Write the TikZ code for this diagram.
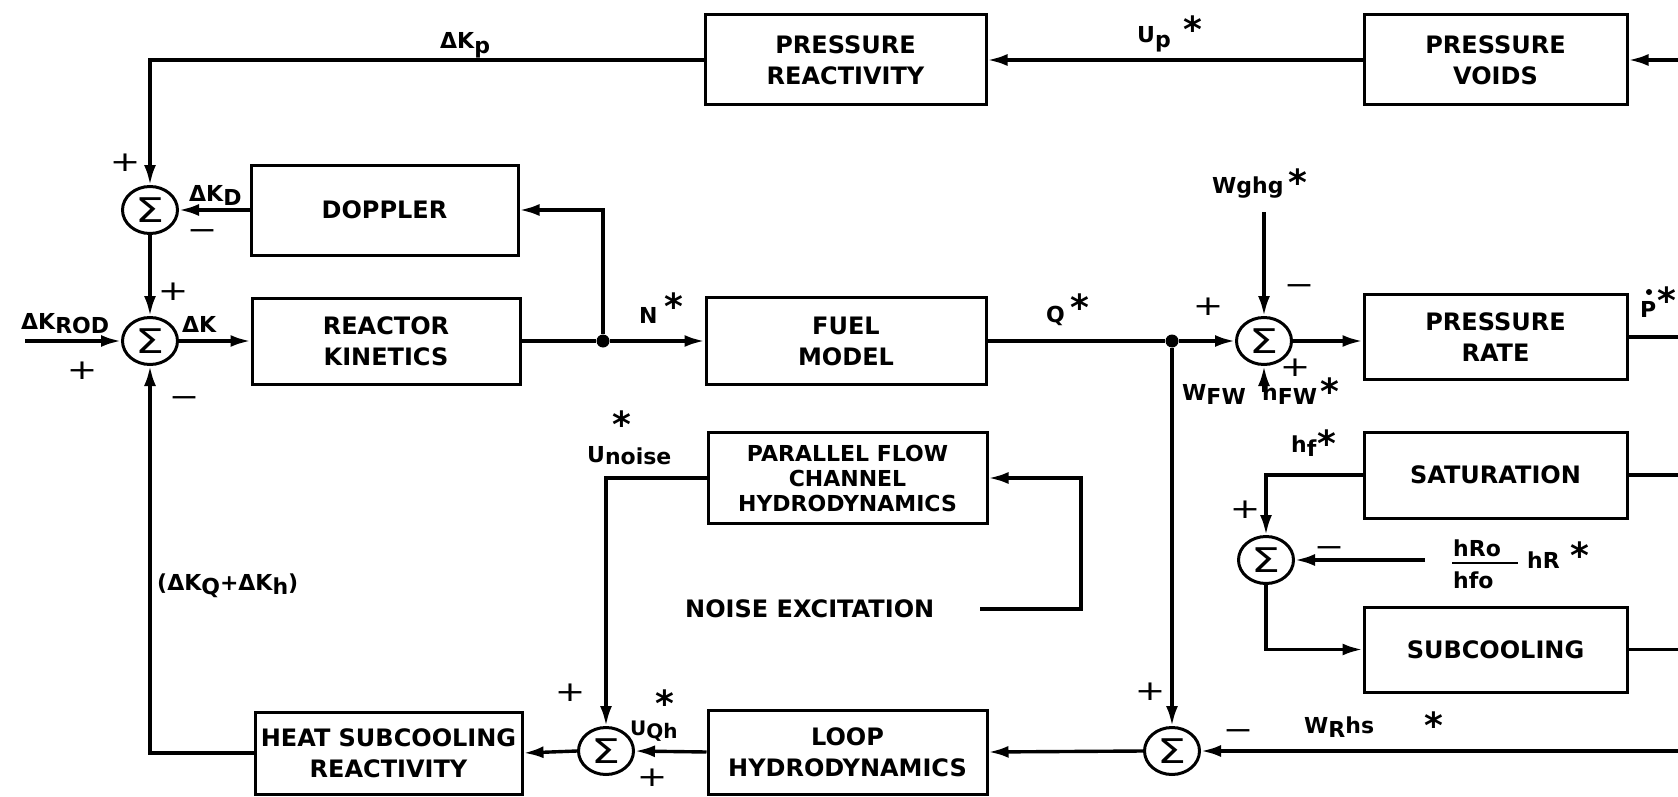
\documentclass[tikz,border=0pt]{standalone}
\usepackage{fontspec}
\setmainfont{DejaVu Sans}
\usetikzlibrary{arrows.meta,shapes.geometric}
\newcommand{\lo}[1]{\raisebox{-0.22em}{#1}}
\newcommand{\sig}{\scalebox{1.35}[1]{\fontsize{34}{34}\selectfont Σ}}
\begin{document}
\begin{tikzpicture}[x=1pt,y=-1pt,
  blk/.style={draw, line width=3pt, align=center, inner sep=0pt,
    font=\fontsize{24}{31}\bfseries\selectfont},
  sumn/.style={ellipse, draw, line width=3pt, minimum width=55pt,
    minimum height=47pt, inner sep=0pt},
  conn/.style={line width=3.4pt},
  arr/.style={conn, -{Latex[length=20pt,width=12pt]}},
  lbl/.style={font=\fontsize{22}{22}\bfseries\selectfont, inner sep=0pt, anchor=base west},
  strn/.style={font=\fontsize{36}{36}\bfseries\selectfont, inner sep=0pt, anchor=base},
  plus/.style={font=\fontsize{28}{28}\selectfont, inner sep=0pt, anchor=center},
  minus/.style={font=\fontsize{28}{28}\selectfont, inner sep=0pt, anchor=base},
  jdot/.style={circle, fill, minimum size=13pt, inner sep=0pt}]
\useasboundingbox (0,0) rectangle (1678,797);
\fill[white] (0,0) rectangle (1678,797);

% blocks
\node[blk, minimum width=281pt, minimum height=90pt] (PR) at (845.5,60) {PRESSURE\\REACTIVITY};
\node[blk, minimum width=263pt, minimum height=90pt] (PV) at (1495.5,60) {PRESSURE\\VOIDS};
\node[blk, minimum width=267pt, minimum height=90pt] (DOP) at (384.5,210) {DOPPLER};
\node[blk, minimum width=268pt, minimum height=86pt] (RK) at (386,341) {REACTOR\\KINETICS};
\node[blk, minimum width=280pt, minimum height=87pt] (FM) at (846,341) {FUEL\\MODEL};
\node[blk, minimum width=263pt, minimum height=85pt] (PRT) at (1495.5,337) {PRESSURE\\RATE};
\node[blk, minimum width=279pt, minimum height=91pt, font=\fontsize{22}{25}\bfseries\selectfont] (PF) at (847.5,478) {PARALLEL FLOW\\CHANNEL\\HYDRODYNAMICS};
\node[blk, minimum width=263pt, minimum height=86pt] (SAT) at (1495.5,475) {SATURATION};
\node[blk, minimum width=263pt, minimum height=85pt] (SUB) at (1495.5,649.5) {SUBCOOLING};
\node[blk, minimum width=279pt, minimum height=84pt] (LOOP) at (847.5,752) {LOOP\\HYDRODYNAMICS};
\node[blk, minimum width=267pt, minimum height=82pt] (HEAT) at (388.5,753) {HEAT SUBCOOLING\\REACTIVITY};

% summing junctions
\node[sumn] (S1) at (150,210) {\sig};
\node[sumn] (S2) at (150,341) {\sig};
\node[sumn] (SP) at (1264,341) {\sig};
\node[sumn] (SH) at (1266,560) {\sig};
\node[sumn] (SR) at (1172,751) {\sig};
\node[sumn] (SQ) at (606,751) {\sig};
\node[jdot] (J1) at (603,341) {};
\node[jdot] (J2) at (1172,341) {};

% free ends
\coordinate (eV) at (1678,60);
\coordinate (eR) at (1678,337);
\coordinate (eSat) at (1678,475);
\coordinate (eSub) at (1678,649.5);
\coordinate (eW) at (1678,751);
\coordinate (rodin) at (25,341);
\coordinate (wghg) at (1264,212);
\coordinate (hfw) at (1264,392);
\coordinate (hro) at (1425,560);
\coordinate (noise) at (980,609);
\coordinate (nc) at (1081,609);

% connectors
\draw[arr] (eV) -- (PV.east);
\draw[arr] (PV.west) -- (PR.east);
\draw[arr] (PR.west) -| (S1.north);
\draw[arr] (DOP.west) -- (S1.east);
\draw[arr] (S1.south) -- (S2.north);
\draw[arr] (rodin) -- (S2.west);
\draw[arr] (S2.east) -- (RK.west);
\draw[conn] (RK.east) -- (J1);
\draw[arr] (J1) |- (DOP.east);
\draw[arr] (J1) -- (FM.west);
\draw[conn] (FM.east) -- (J2);
\draw[arr] (J2) -- (SP.west);
\draw[arr] (wghg) -- (SP.north);
\draw[arr] (hfw) -- (SP.south);
\draw[arr] (SP.east) -- (SP.east -| PRT.west);
\draw[conn] (PRT.east) -- (eR);
\draw[arr] (J2) -- (SR.north);
\draw[arr] (eW) -- (SR.east);
\draw[arr] (SR.west) -- (LOOP.east);
\draw[arr] (LOOP.west) -- (SQ.east);
\draw[arr] (SQ.west) -- (HEAT.east);
\draw[arr] (HEAT.west) -| (S2.south);
\draw[arr] (PF.west) -| (SQ.north);
\draw[arr] (noise) -- (nc) |- (PF.east);
\draw[arr] (SAT.west) -| (SH.north);
\draw[arr] (hro) -- (SH.east);
\draw[arr] (SH.south) |- (SUB.west);
\draw[conn] (SAT.east) -- (eSat);
\draw[conn] (SUB.east) -- (eSub);

% labels
\node[lbl] (lKp) at (440,49) {ΔK\lo{p}};
\node[lbl] (lUp) at (1137,43) {U\lo{p}};
\node[strn] (sUp) at (1193,43) {*};
\node[lbl] (lN) at (639,323) {N};
\node[strn] (sN) at (674,319) {*};
\node[lbl] (lQ) at (1046,322) {Q};
\node[strn] (sQ) at (1080,320) {*};
\node[lbl] (lW) at (1212,193) {Wghg};
\node[strn] (sW) at (1298,195) {*};
\node[lbl] (lP) at (1640,317) {P};
\fill (1649,292) circle (3pt);
\node[strn] (sP) at (1667,313) {*};
\node[lbl] (lKD) at (189,201) {ΔK\lo{D}};
\node[lbl] (lK) at (182,332) {ΔK};
\node[lbl] (lKR) at (21,329) {ΔK\lo{ROD}};
\node[lbl] (lKQ) at (157,590) {(ΔK\lo{Q}+ΔK\lo{h})};
\node[lbl] (lUn) at (587,462) {U\raisebox{-0.12em}{noise}};
\node[strn] (sUn) at (622,437) {*};
\node[lbl, font=\fontsize{20}{20}\bfseries\selectfont] (lUq) at (630,735) {U\raisebox{-0.15em}{Qh}};
\node[strn] (sUq) at (665,716) {*};
\node[lbl] (lhf) at (1291,452) {h\lo{f}};
\node[strn] (shf) at (1327,456) {*};
\node[lbl] (lWfw) at (1182,400) {W\lo{FW}};
\node[lbl] (lhfw) at (1262,400) {h\lo{FW}};
\node[strn] (shfw) at (1330,404) {*};
\node[lbl] (lWR) at (1304,733) {W\lo{R}hs};
\node[strn] (sWR) at (1434,738) {*};
\node[lbl] (lhRo) at (1453,556) {hRo};
\node[lbl] (lhfo) at (1453,588) {hfo};
\draw[line width=2.4pt] (1452,563) -- (1518,563);
\node[lbl] (lhR) at (1527,568) {hR};
\node[strn] (shR) at (1580,568) {*};
\node[lbl, font=\fontsize{24}{24}\bfseries\selectfont] (lnx) at (685,617) {NOISE EXCITATION};

% signs
\node[plus] at (125,163) {\scalebox{1.3}[1]{+}};
\node[minus] at (202,239) {\scalebox{1.3}[1]{−}};
\node[plus] at (173,292) {\scalebox{1.3}[1]{+}};
\node[plus] at (82,371) {\scalebox{1.3}[1]{+}};
\node[minus] at (184,406) {\scalebox{1.3}[1]{−}};
\node[plus] at (1208,307) {\scalebox{1.3}[1]{+}};
\node[minus] at (1299,294) {\scalebox{1.3}[1]{−}};
\node[plus] at (1295,368) {\scalebox{1.3}[1]{+}};
\node[plus] at (1245,510) {\scalebox{1.3}[1]{+}};
\node[minus] at (1329,556) {\scalebox{1.3}[1]{−}};
\node[plus] at (1150,692) {\scalebox{1.3}[1]{+}};
\node[minus] at (1238,739) {\scalebox{1.3}[1]{−}};
\node[plus] at (570,693) {\scalebox{1.3}[1]{+}};
\node[plus] at (652,778) {\scalebox{1.3}[1]{+}};
\end{tikzpicture}
\end{document}
